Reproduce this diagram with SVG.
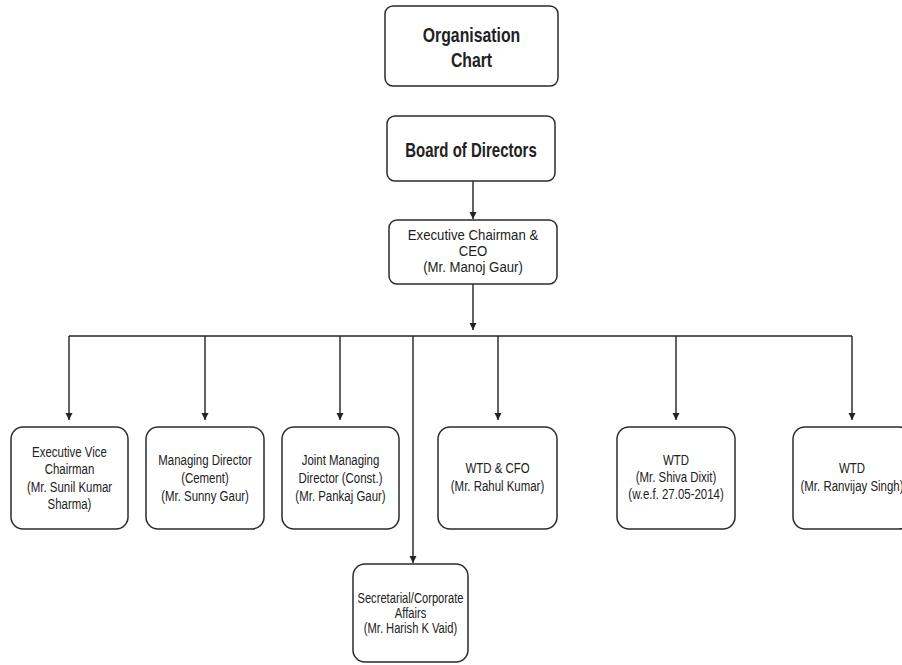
<svg xmlns="http://www.w3.org/2000/svg" width="902" height="665" viewBox="0 0 902 665">
<style>
.box{fill:#fff;stroke:#2b2b2b;stroke-width:1.5}
.t{font-family:"Liberation Sans",Arial,sans-serif;font-size:14.5px;fill:#222;text-anchor:middle}
.b{font-family:"Liberation Sans",Arial,sans-serif;font-size:20px;font-weight:bold;fill:#222;text-anchor:middle}
.c{fill:none;stroke:#222;stroke-width:1.4}
</style>
<defs>
<marker id="ah" markerUnits="userSpaceOnUse" markerWidth="8" markerHeight="9" refX="7" refY="3.5" orient="auto">
<path d="M0,0 L7,3.5 L0,7 z" fill="#222"/>
</marker>
</defs>
<rect width="902" height="665" fill="#fff"/>
<g id="connectors">
<path class="c" d="M473,181 V219" marker-end="url(#ah)"/>
<path class="c" d="M473,284 V330" marker-end="url(#ah)"/>
<path class="c" d="M69,336 H852"/>
<path class="c" d="M69,336 V420" marker-end="url(#ah)"/>
<path class="c" d="M205,336 V420" marker-end="url(#ah)"/>
<path class="c" d="M340,336 V420" marker-end="url(#ah)"/>
<path class="c" d="M498,336 V420" marker-end="url(#ah)"/>
<path class="c" d="M676,336 V420" marker-end="url(#ah)"/>
<path class="c" d="M852,336 V420" marker-end="url(#ah)"/>
<path class="c" d="M413,336 V563" marker-end="url(#ah)"/>
</g>
<g id="org-chart">
<rect class="box" x="385" y="6" width="173" height="80" rx="8"/>
<g transform="translate(471.5,0) scale(0.79,1)">
<text class="b" x="0" y="42">Organisation</text>
<text class="b" x="0" y="67">Chart</text>
</g>
</g>
<g id="board">
<rect class="box" x="387" y="116" width="168" height="65" rx="8"/>
<g transform="translate(471,0) scale(0.75,1)">
<text class="b" x="0" y="157">Board of Directors</text>
</g>
</g>
<g id="exec-chairman">
<rect class="box" x="389" y="220" width="168" height="64" rx="8"/>
<g transform="translate(473,0) scale(0.91,1)">
<text class="t" x="0" y="240">Executive Chairman &amp;</text>
<text class="t" x="0" y="256">CEO</text>
<text class="t" x="0" y="272">(Mr. Manoj Gaur)</text>
</g>
</g>
<g id="exec-vice-chairman">
<rect class="box" x="11" y="427" width="117" height="102" rx="12"/>
<g transform="translate(69.5,0) scale(0.79,1)">
<text class="t" x="0" y="457">Executive Vice</text>
<text class="t" x="0" y="474.5">Chairman</text>
<text class="t" x="0" y="492">(Mr. Sunil Kumar</text>
<text class="t" x="0" y="509.5">Sharma)</text>
</g>
</g>
<g id="md-cement">
<rect class="box" x="146" y="427" width="118" height="102" rx="12"/>
<g transform="translate(205,0) scale(0.79,1)">
<text class="t" x="0" y="465">Managing Director</text>
<text class="t" x="0" y="483">(Cement)</text>
<text class="t" x="0" y="501">(Mr. Sunny Gaur)</text>
</g>
</g>
<g id="jmd-const">
<rect class="box" x="282" y="427" width="117" height="102" rx="12"/>
<g transform="translate(340.5,0) scale(0.79,1)">
<text class="t" x="0" y="465">Joint Managing</text>
<text class="t" x="0" y="483">Director (Const.)</text>
<text class="t" x="0" y="501">(Mr. Pankaj Gaur)</text>
</g>
</g>
<g id="wtd-cfo">
<rect class="box" x="438" y="427" width="119" height="102" rx="12"/>
<g transform="translate(497.5,0) scale(0.79,1)">
<text class="t" x="0" y="473">WTD &amp; CFO</text>
<text class="t" x="0" y="491">(Mr. Rahul Kumar)</text>
</g>
</g>
<g id="wtd-shiva">
<rect class="box" x="617" y="427" width="118" height="102" rx="12"/>
<g transform="translate(676,0) scale(0.79,1)">
<text class="t" x="0" y="465">WTD</text>
<text class="t" x="0" y="482">(Mr. Shiva Dixit)</text>
<text class="t" x="0" y="499">(w.e.f. 27.05-2014)</text>
</g>
</g>
<g id="wtd-ranvijay">
<rect class="box" x="793" y="427" width="118" height="102" rx="12"/>
<g transform="translate(852,0) scale(0.79,1)">
<text class="t" x="0" y="473">WTD</text>
<text class="t" x="0" y="491">(Mr. Ranvijay Singh)</text>
</g>
</g>
<g id="secretarial">
<rect class="box" x="353" y="564" width="115" height="98" rx="12"/>
<g transform="translate(410.5,0) scale(0.77,1)">
<text class="t" x="0" y="603">Secretarial/Corporate</text>
<text class="t" x="0" y="618">Affairs</text>
<text class="t" x="0" y="633">(Mr. Harish K Vaid)</text>
</g>
</g>
</svg>
